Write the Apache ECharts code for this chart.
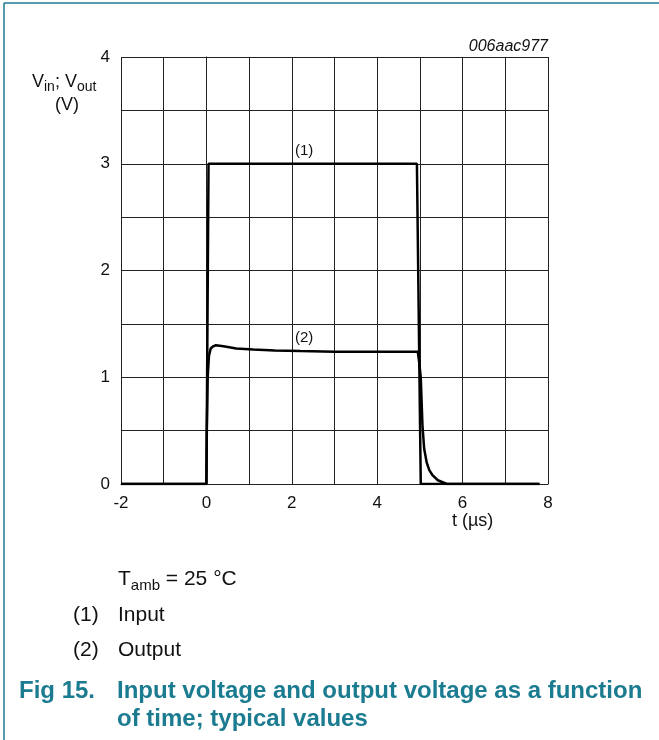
<!DOCTYPE html>
<html>
<head>
<meta charset="utf-8">
<script src="https://cdn.jsdelivr.net/npm/echarts@6/dist/echarts.min.js"></script>
<style>
  html, body { margin: 0; padding: 0; background: #fff; }
  #chart { width: 659px; height: 740px; }
</style>
</head>
<body>
<div id="chart"></div>
<script>
// input voltage (1), t in µs, V in volts
const inputTime = [-2, 0, 0.05, 4.93, 5.02, 7.8];
const inputVolt = [0, 0, 3, 3, 0, 0];

// output voltage (2)
const outputTime = [-2, 0, 0.01, 0.03, 0.06, 0.1, 0.16, 0.22, 0.4, 0.7, 1.1, 1.6, 2.2, 3, 4.95, 4.98, 5.02, 5.06, 5.1, 5.16, 5.22, 5.3, 5.42, 5.63, 7.8];
const outputVolt = [0, 0, 0.5, 1.0, 1.2, 1.27, 1.29, 1.3, 1.29, 1.27, 1.26, 1.25, 1.245, 1.24, 1.24, 1.15, 1.0, 0.55, 0.33, 0.2, 0.13, 0.08, 0.035, 0, 0];

const xTicks = [-2, 0, 2, 4, 6, 8];
const yTicks = [0, 1, 2, 3, 4];

const teal = '#1b7b90';
const font = 'Liberation Sans, Arial, sans-serif';

const pairs = (xs, ys) => xs.map((x, i) => [x, ys[i]]);

const chart = echarts.init(document.getElementById('chart'));

const option = {
  animation: false,
  backgroundColor: '#fff',
  textStyle: { fontFamily: font },
  grid: { left: 121, top: 57, right: 111, bottom: 256 },
  xAxis: {
    type: 'value',
    min: -2,
    max: 8,
    interval: 1,
    axisLine: { lineStyle: { color: '#222', width: 1 } },
    axisTick: { show: false },
    axisLabel: {
      color: '#111',
      fontSize: 17,
      margin: 11,
      formatter: v => (xTicks.includes(v) ? String(v) : '')
    },
    splitLine: { lineStyle: { color: '#222', width: 1 } }
  },
  yAxis: {
    type: 'value',
    min: 0,
    max: 4,
    interval: 0.5,
    axisLine: { show: true, lineStyle: { color: '#222', width: 1 } },
    axisTick: { show: false },
    axisLabel: {
      color: '#111',
      fontSize: 17,
      margin: 11,
      formatter: v => (yTicks.includes(v) ? String(v) : '')
    },
    splitLine: { lineStyle: { color: '#222', width: 1 } }
  },
  series: [
    {
      name: 'Input',
      type: 'line',
      data: pairs(inputTime, inputVolt),
      showSymbol: false,
      lineStyle: { color: '#000', width: 2.5 },
      markPoint: {
        symbol: 'circle',
        symbolSize: 0,
        label: { show: true, formatter: '(1)', color: '#111', fontSize: 15, position: 'inside' },
        data: [{ coord: [2.29, 3.12] }]
      }
    },
    {
      name: 'Output',
      type: 'line',
      data: pairs(outputTime, outputVolt),
      showSymbol: false,
      lineStyle: { color: '#000', width: 2.5 },
      markPoint: {
        symbol: 'circle',
        symbolSize: 0,
        label: { show: true, formatter: '(2)', color: '#111', fontSize: 15, position: 'inside' },
        data: [{ coord: [2.29, 1.37] }]
      }
    }
  ],
  graphic: [
    // frame lines of the page
    { type: 'line', shape: { x1: 4, y1: 3, x2: 659, y2: 3 }, style: { stroke: teal, lineWidth: 1.5 } },
    { type: 'line', shape: { x1: 4, y1: 3, x2: 4, y2: 740 }, style: { stroke: teal, lineWidth: 1.5 } },
    // y axis title
    {
      type: 'text', left: 32, top: 73,
      style: {
        text: '{m|V}{s|in}{m|; V}{s|out}',
        rich: {
          m: { fontSize: 18, fontFamily: font, fill: '#111', lineHeight: 22, verticalAlign: 'top' },
          s: { fontSize: 14, fontFamily: font, fill: '#111', lineHeight: 22, padding: [7, 0, 0, 0], verticalAlign: 'top' }
        }
      }
    },
    { type: 'text', left: 55, top: 96, style: { text: '(V)', fontSize: 18, fontFamily: font, fill: '#111' } },
    // x axis title
    { type: 'text', left: 452, top: 512, style: { text: 't (µs)', fontSize: 18, fontFamily: font, fill: '#111' } },
    // figure code
    { type: 'text', right: 111, top: 39, style: { text: '006aac977', fontSize: 16, fontStyle: 'italic', fontFamily: font, fill: '#111', textAlign: 'right' } },
    // notes
    {
      type: 'text', left: 118, top: 569,
      style: {
        text: '{m|T}{s|amb}{m| = 25 °C}',
        rich: {
          m: { fontSize: 21, fontFamily: font, fill: '#111', lineHeight: 24, verticalAlign: 'top' },
          s: { fontSize: 15, fontFamily: font, fill: '#111', lineHeight: 24, padding: [9, 0, 0, 0], verticalAlign: 'top' }
        }
      }
    },
    { type: 'text', left: 73, top: 605, style: { text: '(1)', fontSize: 21, fontFamily: font, fill: '#111' } },
    { type: 'text', left: 118, top: 605, style: { text: 'Input', fontSize: 21, fontFamily: font, fill: '#111' } },
    { type: 'text', left: 73, top: 640, style: { text: '(2)', fontSize: 21, fontFamily: font, fill: '#111' } },
    { type: 'text', left: 118, top: 640, style: { text: 'Output', fontSize: 21, fontFamily: font, fill: '#111' } },
    // caption
    { type: 'text', left: 19, top: 679, style: { text: 'Fig 15.', fontSize: 24, fontWeight: 'bold', fontFamily: font, fill: teal } },
    { type: 'text', left: 117, top: 679, style: { text: 'Input voltage and output voltage as a function', fontSize: 24, fontWeight: 'bold', fontFamily: font, fill: teal } },
    { type: 'text', left: 117, top: 707, style: { text: 'of time; typical values', fontSize: 24, fontWeight: 'bold', fontFamily: font, fill: teal } }
  ]
};

chart.setOption(option);
</script>
</body>
</html>
